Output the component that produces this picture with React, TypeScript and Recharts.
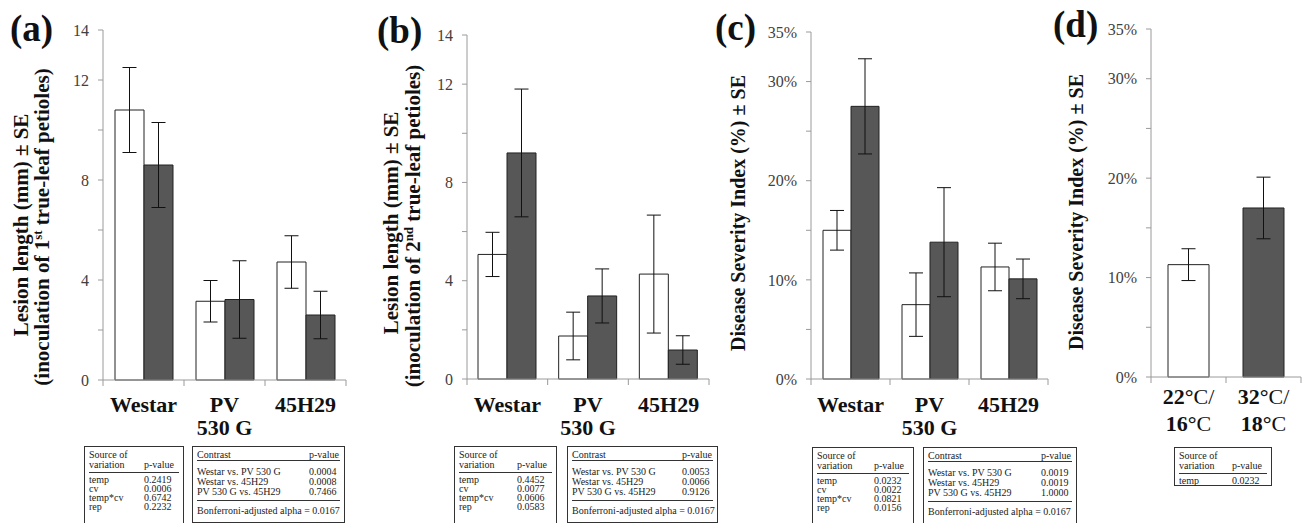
import React from "react";
import { BarChart, Bar, XAxis, YAxis, ErrorBar, Cell } from "recharts";

const FONT = '"Liberation Serif", "DejaVu Serif", serif';
const PAGE_W = 1307;
const PAGE_H = 523;
const AXIS = "#9a9a9a";
const DARK = "#575757";

// categories
const cultivars = ["Westar", "PV\n530 G", "45H29"];
const regimes = ["22°C/\n16°C", "32°C/\n18°C"];

// (a) lesion length, 1st true-leaf petioles (mm)
const lesion1Cool = [10.8, 3.15, 4.72];
const lesion1CoolSE = [1.7, 0.83, 1.05];
const lesion1Warm = [8.6, 3.22, 2.6];
const lesion1WarmSE = [1.7, 1.55, 0.95];

// (b) lesion length, 2nd true-leaf petioles (mm)
const lesion2Cool = [5.07, 1.75, 4.27];
const lesion2CoolSE = [0.9, 0.97, 2.4];
const lesion2Warm = [9.2, 3.38, 1.18];
const lesion2WarmSE = [2.6, 1.1, 0.58];

// (c) disease severity index (%)
const dsiCool = [15.0, 7.5, 11.3];
const dsiCoolSE = [2.0, 3.2, 2.4];
const dsiWarm = [27.5, 13.8, 10.1];
const dsiWarmSE = [4.8, 5.5, 2.0];

// (d) disease severity index by temperature (%)
const dsiTemp = [11.3, 17.0];
const dsiTempSE = [1.6, 3.1];

// axis ticks
const lesionTicks = [0, 2, 4, 6, 8, 10, 12, 14];
const lesionTickLabels = [0, 4, 8, 12, 14];
const dsiTicks = [0, 5, 10, 15, 20, 25, 30, 35];
const dsiTickLabels = [0, 10, 20, 30, 35];

// statistics tables
const anovaRows = ["temp", "cv", "temp*cv", "rep"];
const anovaA = ["0.2419", "0.0006", "0.6742", "0.2232"];
const anovaB = ["0.4452", "0.0077", "0.0606", "0.0583"];
const anovaC = ["0.0232", "0.0022", "0.0821", "0.0156"];
const anovaD = ["0.0232"];
const contrasts = ["Westar vs. PV 530 G", "Westar vs. 45H29", "PV 530 G vs. 45H29"];
const contrastA = ["0.0004", "0.0008", "0.7466"];
const contrastB = ["0.0053", "0.0066", "0.9126"];
const contrastC = ["0.0019", "0.0019", "1.0000"];
const bonferroni = "Bonferroni-adjusted alpha = 0.0167";

const pairData = (cool: number[], coolSE: number[], warm: number[], warmSE: number[]) =>
  cultivars.map((name, i) => ({ name, cool: cool[i], coolSE: coolSE[i], warm: warm[i], warmSE: warmSE[i] }));

const renderLine = (ln: string) => {
  const k = ln.indexOf("°");
  if (k < 0) return ln;
  return (
    <>
      <tspan fontWeight="bold">{ln.slice(0, k + 1)}</tspan>
      <tspan fontWeight="normal">{ln.slice(k + 1)}</tspan>
    </>
  );
};

const makeCatTick = (axisY: number, bw: number, n: number, dy1: number, gap: number) => (props: any) => {
  const { x, payload, index } = props;
  const lines = String(payload.value).split("\n");
  return (
    <g>
      <line x1={x - bw / 2} x2={x - bw / 2} y1={axisY} y2={axisY + 6} stroke={AXIS} />
      {index === n - 1 && <line x1={x + bw / 2} x2={x + bw / 2} y1={axisY} y2={axisY + 6} stroke={AXIS} />}
      <text x={x} y={axisY + dy1} textAnchor="middle" fontFamily={FONT} fontSize={22} fontWeight="bold" fill="#111">
        {lines.map((ln, i) => (
          <tspan key={i} x={x} dy={i === 0 ? 0 : gap}>
            {renderLine(ln)}
          </tspan>
        ))}
      </text>
    </g>
  );
};

type Plot = { left: number; top: number; right: number; bottom: number };

const Y_W = 60;
const X_H = 60;

const Panel: React.FC<{
  plot: Plot;
  data: any[];
  ticks: number[];
  tickLabels: number[];
  pct?: boolean;
  barSize: number;
  single?: boolean;
  dy1: number;
  gap: number;
}> = ({ plot, data, ticks, tickLabels, pct, barSize, single, dy1, gap }) => {
  const bw = (plot.right - plot.left) / data.length;
  const margin = {
    top: plot.top,
    left: plot.left - Y_W,
    right: PAGE_W - plot.right,
    bottom: PAGE_H - plot.bottom - X_H,
  };
  return (
    <div style={{ position: "absolute", left: 0, top: 0 }}>
      <BarChart width={PAGE_W} height={PAGE_H} data={data} margin={margin} barGap={0}>
        <XAxis
          dataKey="name"
          height={X_H}
          interval={0}
          tickLine={false}
          axisLine={{ stroke: AXIS }}
          tick={makeCatTick(plot.bottom, bw, data.length, dy1, gap)}
        />
        <YAxis
          width={Y_W}
          domain={[0, ticks[ticks.length - 1]]}
          ticks={ticks}
          interval={0}
          tickSize={5}
          tickMargin={9}
          axisLine={{ stroke: AXIS }}
          tickLine={{ stroke: AXIS }}
          tick={{ fill: "#404040", fontSize: 16, fontFamily: FONT }}
          tickFormatter={(v: number) => (tickLabels.includes(v) ? (pct ? `${v}%` : `${v}`) : "")}
        />
        {single ? (
          <Bar dataKey="v" barSize={barSize} stroke="#222" strokeWidth={1} isAnimationActive={false}>
            {data.map((d, i) => (
              <Cell key={i} fill={i === 0 ? "#ffffff" : DARK} />
            ))}
            <ErrorBar dataKey="se" width={7} stroke="#111" strokeWidth={1} direction="y" />
          </Bar>
        ) : (
          [
            <Bar key="c" dataKey="cool" barSize={barSize} fill="#ffffff" stroke="#222" strokeWidth={1} isAnimationActive={false}>
              <ErrorBar dataKey="coolSE" width={7} stroke="#111" strokeWidth={1} direction="y" />
            </Bar>,
            <Bar key="w" dataKey="warm" barSize={barSize} fill={DARK} stroke="#222" strokeWidth={1} isAnimationActive={false}>
              <ErrorBar dataKey="warmSE" width={7} stroke="#111" strokeWidth={1} direction="y" />
            </Bar>,
          ]
        )}
      </BarChart>
    </div>
  );
};

const cellFont: React.CSSProperties = { fontFamily: FONT, fontSize: 10, color: "#222", whiteSpace: "nowrap" };

const AnovaTable: React.FC<{ x: number; y: number; w: number; values: string[] }> = ({ x, y, w, values }) => (
  <div
    style={{
      ...cellFont,
      position: "absolute",
      left: x,
      top: y,
      width: w,
      height: values.length > 1 ? 120 : 39,
      border: "1px solid #333",
      boxSizing: "border-box",
      padding: "3px 4px 0",
    }}
  >
    <div style={{ height: 10, lineHeight: "10px" }}>Source of</div>
    <div style={{ height: 10, lineHeight: "10px", display: "flex" }}>
      <span style={{ flex: 1 }}>variation</span>
      <span style={{ width: 35 }}>p-value</span>
    </div>
    <div style={{ borderTop: "1px solid #333", marginTop: 2, paddingTop: 2 }}>
      {values.map((v, i) => (
        <div key={i} style={{ height: 9, lineHeight: "9px", display: "flex" }}>
          <span style={{ flex: 1 }}>{anovaRows[i]}</span>
          <span style={{ width: 35 }}>{v}</span>
        </div>
      ))}
    </div>
  </div>
);

const ContrastTable: React.FC<{ x: number; y: number; w: number; values: string[] }> = ({ x, y, w, values }) => (
  <div
    style={{
      ...cellFont,
      position: "absolute",
      left: x,
      top: y,
      width: w,
      height: 77,
      border: "1px solid #333",
      boxSizing: "border-box",
      padding: "3px 4px 0",
    }}
  >
    <div style={{ height: 10, lineHeight: "10px", display: "flex" }}>
      <span style={{ flex: 1 }}>Contrast</span>
      <span style={{ width: 31 }}>p-value</span>
    </div>
    <div style={{ borderTop: "1px solid #333", paddingTop: 6 }}>
      {values.map((v, i) => (
        <div key={i} style={{ height: 10, lineHeight: "10px", display: "flex" }}>
          <span style={{ flex: 1 }}>{contrasts[i]}</span>
          <span style={{ width: 31 }}>{v}</span>
        </div>
      ))}
    </div>
    <div style={{ borderTop: "1px solid #333", marginTop: 3, paddingTop: 5, height: 10, lineHeight: "10px" }}>
      {bonferroni}
    </div>
  </div>
);

const TitleText: React.FC<{ x: number; y: number; size: number; children: React.ReactNode }> = ({ x, y, size, children }) => (
  <text
    transform={`translate(${x},${y}) rotate(-90)`}
    textAnchor="middle"
    fontFamily={FONT}
    fontSize={size}
    fontWeight="bold"
    fill="#111"
  >
    {children}
  </text>
);

const Letter: React.FC<{ x: number; y: number; t: string }> = ({ x, y, t }) => (
  <text x={x} y={y} fontFamily={FONT} fontSize={37} fontWeight="bold" fill="#111">
    {t}
  </text>
);

export default function App() {
  const dataA = pairData(lesion1Cool, lesion1CoolSE, lesion1Warm, lesion1WarmSE);
  const dataB = pairData(lesion2Cool, lesion2CoolSE, lesion2Warm, lesion2WarmSE);
  const dataC = pairData(dsiCool, dsiCoolSE, dsiWarm, dsiWarmSE);
  const dataD = regimes.map((name, i) => ({ name, v: dsiTemp[i], se: dsiTempSE[i] }));

  return (
    <div
      style={{
        position: "absolute",
        left: 0,
        top: 0,
        width: PAGE_W,
        height: PAGE_H,
        background: "#fff",
        overflow: "hidden",
      }}
    >
      <Panel plot={{ left: 103, top: 30, right: 346, bottom: 380 }} data={dataA} ticks={lesionTicks} tickLabels={lesionTickLabels} barSize={29} dy1={32} gap={23} />
      <Panel plot={{ left: 467, top: 35, right: 709, bottom: 379 }} data={dataB} ticks={lesionTicks} tickLabels={lesionTickLabels} barSize={29} dy1={33} gap={23} />
      <Panel plot={{ left: 811, top: 32, right: 1048, bottom: 379 }} data={dataC} ticks={dsiTicks} tickLabels={dsiTickLabels} pct barSize={28} dy1={33} gap={23} />
      <Panel plot={{ left: 1151, top: 29, right: 1301, bottom: 377 }} data={dataD} ticks={dsiTicks} tickLabels={dsiTickLabels} pct single barSize={41} dy1={27} gap={27} />

      <svg width={PAGE_W} height={PAGE_H} style={{ position: "absolute", left: 0, top: 0, pointerEvents: "none" }}>
        <Letter x={10} y={41} t="(a)" />
        <Letter x={377} y={43} t="(b)" />
        <Letter x={715} y={40} t="(c)" />
        <Letter x={1053} y={37} t="(d)" />

        <TitleText x={28} y={225} size={21}>Lesion length (mm) ± SE</TitleText>
        <TitleText x={49} y={227} size={21}>
          <tspan>(inoculation of 1</tspan>
          <tspan dy={-7} fontSize={13}>st</tspan>
          <tspan dy={7}> true-leaf petioles)</tspan>
        </TitleText>
        <TitleText x={398} y={223} size={21}>Lesion length (mm) ± SE</TitleText>
        <TitleText x={420} y={226} size={21}>
          <tspan>(inoculation of 2</tspan>
          <tspan dy={-7} fontSize={13}>nd</tspan>
          <tspan dy={7}> true-leaf petioles)</tspan>
        </TitleText>
        <TitleText x={745} y={213} size={20}>Disease Severity Index (%) ± SE</TitleText>
        <TitleText x={1083} y={212} size={20}>Disease Severity Index (%) ± SE</TitleText>
      </svg>

      <AnovaTable x={84} y={446} w={100} values={anovaA} />
      <ContrastTable x={192} y={446} w={153} values={contrastA} />
      <AnovaTable x={454} y={446} w={103} values={anovaB} />
      <ContrastTable x={567} y={446} w={151} values={contrastB} />
      <AnovaTable x={812} y={447} w={102} values={anovaC} />
      <ContrastTable x={923} y={447} w={154} values={contrastC} />
      <AnovaTable x={1174} y={447} w={98} values={anovaD} />
    </div>
  );
}
